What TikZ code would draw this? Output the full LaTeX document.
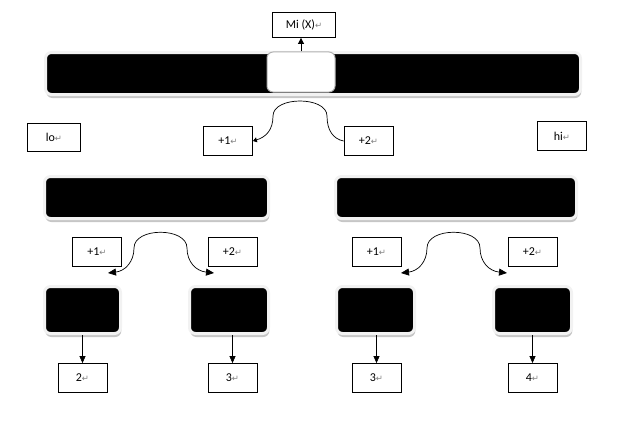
\documentclass[tikz,border=0pt]{standalone}
\usepackage{fontspec}
\setmainfont{Carlito}
\newfontfamily\markfont{DejaVu Sans}
\usetikzlibrary{arrows.meta,shadows}
% paragraph mark shown after each label
\newcommand{\pmark}{{\markfont\color{gray}\fontsize{8.5}{9}\selectfont ↵}}

\begin{document}
\begin{tikzpicture}[x=1pt,y=-1pt,
  lbl/.style={draw, line width=0.8pt, fill=white, inner sep=0pt,
    minimum width=49pt, minimum height=29pt, font=\fontsize{12}{13}\selectfont},
  bar/.style={draw=gray!10, line width=3pt, fill=black, rounded corners=6pt,
    inner sep=0pt, minimum height=42pt,
    drop shadow={shadow xshift=0.8pt, shadow yshift=-3.5pt, fill=gray!45, opacity=1}},
  slot/.style={draw=gray!60, line width=1pt, fill=white, rounded corners=6pt,
    inner sep=0pt, minimum width=68pt, minimum height=40pt},
  conn/.style={line width=0.7pt},
  bigtip/.tip={Triangle[length=8pt,width=7pt]}
]
\useasboundingbox (0,0) rectangle (628,420);

% whole array with the pivot slot
\node[bar, minimum width=535pt] (top) at (313,73.5) {};
\node[slot] (piv) at (301,72) {};
\node[lbl, minimum width=63pt, minimum height=25pt] (mi) at (304,25) {Mi (X)\pmark};
\draw[conn, -{Triangle[length=6pt,width=6pt]}] (piv.north) -- (piv.north |- mi.south);

% bounds
\node[lbl, minimum width=53pt, minimum height=28pt] (lo) at (54,137.5) {lo\pmark};
\node[lbl] (hi) at (562,136) {hi\pmark};

% first split
\node[lbl] (t1) at (228,141) {+1\pmark};
\node[lbl] (t2) at (368.5,141) {+2\pmark};
\draw[conn, {Triangle[length=4pt,width=5pt]}-] (t1.east)
  .. controls (266,137) and (273,130) .. (273,116)
  .. controls (273,96) and (327,96) .. (327,116)
  .. controls (327,130) and (333,139) .. (t2.west);

% halves
\node[bar, minimum width=224pt] (hl) at (156.5,197.5) {};
\node[bar, minimum width=241pt] (hr) at (456,197.5) {};

% second split, left half
\node[lbl] (l1) at (97,252) {+1\pmark};
\node[lbl] (l2) at (232.5,252) {+2\pmark};
\coordinate (la) at (108,273);
\coordinate (lb) at (214,273);
\draw[conn, bigtip-bigtip] (la)
  .. controls (125,271) and (134,262) .. (134,248)
  .. controls (134,227) and (187,227) .. (187,248)
  .. controls (187,262) and (196,271) .. (lb);

% second split, right half
\node[lbl] (r1) at (376.5,252) {+1\pmark};
\node[lbl] (r2) at (532.5,252) {+2\pmark};
\coordinate (ra) at (401,273);
\coordinate (rb) at (507,273);
\draw[conn, bigtip-bigtip] (ra)
  .. controls (418,271) and (427,262) .. (427,248)
  .. controls (427,227) and (480,227) .. (480,248)
  .. controls (480,262) and (489,271) .. (rb);

% quarters
\node[bar, minimum width=76pt, minimum height=47pt] (q1) at (82.5,310) {};
\node[bar, minimum width=79pt, minimum height=47pt] (q2) at (229,310) {};
\node[bar, minimum width=78pt, minimum height=47pt] (q3) at (375.5,310) {};
\node[bar, minimum width=78pt, minimum height=47pt] (q4) at (532.5,310) {};

% results
\node[lbl] (c1) at (82.5,378) {2\pmark};
\node[lbl] (c2) at (232.5,378) {3\pmark};
\node[lbl] (c3) at (376.5,378) {3\pmark};
\node[lbl] (c4) at (532.5,378) {4\pmark};
\foreach \q/\c in {q1/c1,q2/c2,q3/c3,q4/c4}
  \draw[conn, -{Triangle[length=7pt,width=6pt]}] (\c.north |- \q.south) -- (\c.north);
\end{tikzpicture}
\end{document}
